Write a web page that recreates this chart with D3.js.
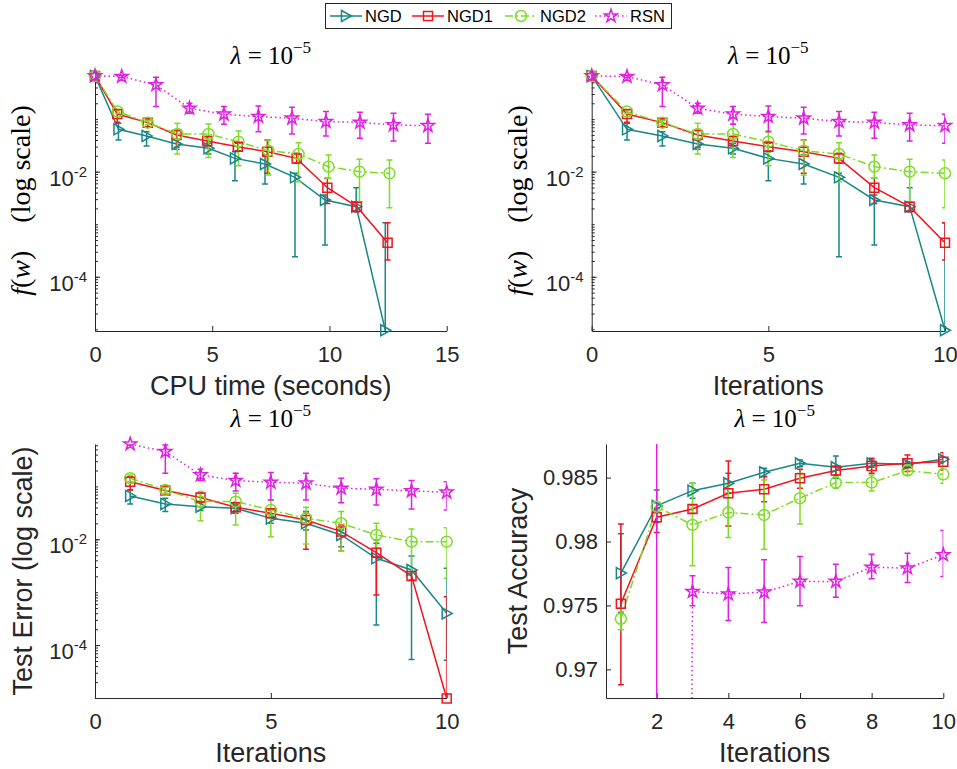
<!DOCTYPE html>
<html>
<head>
<meta charset="utf-8">
<script src="https://cdn.jsdelivr.net/npm/d3@7"></script>
<style>
body { margin: 0; background: #fff; }
svg { font-family: "Liberation Sans", Arial, Helvetica, sans-serif; }
</style>
</head>
<body>
<svg id="chart" width="957" height="769"></svg>
<script>
var methods = ["NGD", "NGD1", "NGD2", "RSN"];
var colors = ["#178787", "#f2141e", "#7fdc26", "#e21ee2"];
var dashes = [null, null, "8,3,2,3", "1.5,3"];
var markers = ["triangle", "square", "circle", "star"];

var iters0 = [0, 1, 2, 3, 4, 5, 6, 7, 8, 9, 10];
var iters1 = [1, 2, 3, 4, 5, 6, 7, 8, 9, 10];

// CPU time of each iteration (seconds)
var timeNGD = [0, 1.0, 2.2, 3.48, 4.84, 5.97, 7.25, 8.53, 9.81, 11.14, 12.38];
var timeNGD1 = [0, 0.95, 2.25, 3.48, 4.79, 6.09, 7.35, 8.6, 9.91, 11.17, 12.48];
var timeNGD2 = [0, 0.97, 2.25, 3.51, 4.84, 6.12, 7.4, 8.68, 9.96, 11.28, 12.56];
var timeRSN = [0, 1.14, 2.6, 4.03, 5.5, 6.97, 8.4, 9.85, 11.3, 12.73, 14.2];

// objective f(w), mean and error bar ends
var objNGD = [0.664, 0.064, 0.0478, 0.0336, 0.0278, 0.0179, 0.0140, 0.0078, 0.00289, 0.00216, 9.6e-6];
var objNGDHi = [0.70, 0.0834, 0.0578, 0.0401, 0.0347, 0.0240, 0.0207, 0.00929, 0.00360, 0.00496, 0.00107];
var objNGDLo = [0.62, 0.0401, 0.0308, 0.0266, 0.0217, 0.00674, 0.00582, 0.00024, 0.000401, 0.00173, 1e-7];

var objNGD1 = [0.664, 0.125, 0.0857, 0.0499, 0.0384, 0.0299, 0.0240, 0.0179, 0.00496, 0.00216, 0.000444];
var objNGD1Hi = [0.70, 0.150, 0.0964, 0.0604, 0.0465, 0.0347, 0.0401, 0.0223, 0.00746, 0.00268, 0.00107];
var objNGD1Lo = [0.62, 0.0871, 0.0720, 0.0290, 0.0308, 0.0251, 0.00929, 0.0144, 0.00249, 0.00173, 0.000208];

var objNGD2 = [0.664, 0.139, 0.0857, 0.0521, 0.0521, 0.0372, 0.0251, 0.0217, 0.01245, 0.0100, 0.00929];
var objNGD2Hi = [0.70, 0.150, 0.0930, 0.0834, 0.0809, 0.0596, 0.0401, 0.0356, 0.0207, 0.0172, 0.0167];
var objNGD2Lo = [0.62, 0.128, 0.0790, 0.0217, 0.0187, 0.0130, 0.00865, 0.00645, 0.00746, 0.00268, 0.00206];

var objRSN = [0.664, 0.646, 0.448, 0.161, 0.124, 0.112, 0.104, 0.0896, 0.087, 0.0775, 0.075];
var objRSNHi = [0.70, 0.68, 0.626, 0.200, 0.173, 0.178, 0.168, 0.139, 0.135, 0.129, 0.124];
var objRSNLo = [0.62, 0.61, 0.173, 0.129, 0.0797, 0.0578, 0.0521, 0.0478, 0.0431, 0.0384, 0.0346];

// test error
var errNGD = [0.0661, 0.0467, 0.0415, 0.0386, 0.0249, 0.0201, 0.0121, 0.00437, 0.00263, 0.000398];
var errNGDHi = [0.0859, 0.0597, 0.0516, 0.0447, 0.0301, 0.0334, 0.0150, 0.00840, 0.00484, 0.00283];
var errNGDLo = [0.0467, 0.0334, 0.0349, 0.0310, 0.0201, 0.0150, 0.00726, 0.000239, 5.36e-5, 5.2e-5];

var errNGD1 = [0.123, 0.0834, 0.0615, 0.0404, 0.0310, 0.0232, 0.0140, 0.00560, 0.00202, 9.8e-6];
var errNGD1Hi = [0.153, 0.0964, 0.0743, 0.0467, 0.0359, 0.0310, 0.0187, 0.00971, 0.00244, 0.000822];
var errNGD1Lo = [0.0859, 0.0721, 0.0494, 0.0349, 0.0261, 0.00647, 0.00610, 0.000884, 0.00170, 1e-7];

var errNGD2 = [0.143, 0.0859, 0.0516, 0.0516, 0.0359, 0.0249, 0.0201, 0.0121, 0.00903, 0.00903];
var errNGD2Hi = [0.165, 0.0964, 0.0798, 0.0743, 0.0556, 0.0404, 0.0334, 0.0201, 0.0157, 0.0166];
var errNGD2Lo = [0.123, 0.0743, 0.0225, 0.0187, 0.0112, 0.00816, 0.00610, 0.00676, 0.00244, 0.00183];

var errRSN = [0.63, 0.456, 0.165, 0.129, 0.120, 0.115, 0.0923, 0.0883, 0.0822, 0.0777];
var errRSNHi = [0.66, 0.609, 0.211, 0.177, 0.183, 0.177, 0.143, 0.139, 0.129, 0.123];
var errRSNLo = [0.60, 0.177, 0.129, 0.0822, 0.0554, 0.0554, 0.0494, 0.0447, 0.0375, 0.0359];

// test accuracy
var accNGD = [0.97753, 0.98279, 0.98398, 0.98456, 0.98542, 0.98612, 0.98581, 0.98612, 0.98604, 0.98643];
var accNGDHi = [0.98060, 0.98404, 0.98456, 0.98534, 0.98573, 0.98638, 0.98669, 0.98638, 0.98625, 0.98669];
var accNGDLo = [0.97445, 0.98148, 0.98339, 0.98378, 0.98508, 0.98586, 0.98495, 0.98581, 0.98586, 0.98612];

var accNGD1 = [0.97513, 0.98190, 0.98255, 0.98378, 0.98409, 0.98495, 0.98555, 0.98591, 0.98612, 0.98625];
var accNGD1Hi = [0.98138, 0.98260, 0.98286, 0.98630, 0.98508, 0.98565, 0.98586, 0.98651, 0.98677, 0.98695];
var accNGD1Lo = [0.96880, 0.98070, 0.98221, 0.98122, 0.98312, 0.98417, 0.98521, 0.98534, 0.98547, 0.98560];

var accNGD2 = [0.97396, 0.98273, 0.98130, 0.98227, 0.98208, 0.98339, 0.98461, 0.98461, 0.98555, 0.98526];
var accNGD2Hi = [0.97479, 0.98299, 0.98456, 0.98443, 0.98482, 0.98534, 0.98508, 0.98521, 0.98599, 0.98573];
var accNGD2Lo = [0.97310, 0.98247, 0.97810, 0.98031, 0.97940, 0.98138, 0.98417, 0.98396, 0.98521, 0.98456];

var accRSN = [0.10, 0.50, 0.97609, 0.97589, 0.97604, 0.97688, 0.97688, 0.97799, 0.97792, 0.97896];
var accRSNHi = [0.11, 1.20, 0.97732, 0.97797, 0.97857, 0.97883, 0.97823, 0.97901, 0.97909, 0.98086];
var accRSNLo = [0.09, -0.20, 0.97497, 0.97383, 0.97367, 0.97497, 0.97565, 0.97708, 0.97680, 0.97727];

var logTicks = [1e-4, 1e-2];
var accTicks = [0.97, 0.975, 0.98, 0.985];
var axisColor = "#262626";

var svg = d3.select("#chart");

function makeSeries(xs, ys, his, los) {
    return methods.map(function (m, i) {
        return {
            name: m,
            color: colors[i],
            dash: dashes[i],
            marker: markers[i],
            pts: xs[i].map(function (xv, j) {
                return { x: xv, y: ys[i][j], hi: his[i][j], lo: los[i][j] };
            })
        };
    });
}

function markerPath(type) {
    if (type == "triangle") return "M-4.5,-5.5L5.5,0L-4.5,5.5Z";
    if (type == "square") return "M-4.5,-4.5H4.5V4.5H-4.5Z";
    if (type == "circle") return d3.symbol(d3.symbolCircle, 95)();
    return d3.symbol(d3.symbolStar, 52)();
}

function supLabel(sel, exp) {
    sel.each(function () {
        var t = d3.select(this);
        t.text(null);
        t.append("tspan").text("10");
        t.append("tspan").attr("dy", "-9").attr("font-size", "15px").text(exp);
    });
}

function drawPanel(cfg, idx) {
    var width = cfg.width,
        height = cfg.height,
        g = svg.append("g").attr("transform", "translate(" + cfg.left + "," + cfg.top + ")");

    var x = d3.scaleLinear().domain(cfg.xDomain).range([0, width]);
    var y = cfg.log ? d3.scaleLog().domain(cfg.yDomain).range([height, 0])
                    : d3.scaleLinear().domain(cfg.yDomain).range([height, 0]);

    g.append("clipPath").attr("id", "clip" + idx)
        .append("rect").attr("width", width).attr("height", height);

    // y axis
    if (cfg.log) {
        var minor = [];
        for (var n = -7; n <= 0; n++) {
            for (var k = 1; k <= 9; k++) {
                var v = k * Math.pow(10, n);
                if (v >= cfg.yDomain[0] && v <= cfg.yDomain[1]) minor.push(v);
            }
        }
        g.append("g")
            .call(d3.axisLeft(y).tickValues(minor).tickSizeInner(-3).tickSizeOuter(0).tickFormat(""))
            .call(a => a.select(".domain").remove())
            .call(a => a.selectAll(".tick line").attr("stroke", axisColor));
        g.append("g")
            .call(d3.axisLeft(y).tickValues(logTicks).tickSizeInner(-5).tickSizeOuter(0).tickPadding(8))
            .call(a => a.selectAll(".tick text").attr("dy", "0.62em").each(function (d) {
                supLabel(d3.select(this), "-" + Math.round(-Math.log10(d)));
            }))
            .call(styleAxis);
    } else {
        g.append("g")
            .call(d3.axisLeft(y).tickValues(cfg.yTicks).tickSizeInner(-5).tickSizeOuter(0).tickPadding(8)
                .tickFormat(d3.format("")))
            .call(styleAxis);
    }

    // x axis
    g.append("g")
        .attr("transform", "translate(0," + height + ")")
        .call(d3.axisBottom(x).tickValues(cfg.xTicks).tickSizeInner(-5).tickSizeOuter(0).tickPadding(15))
        .call(styleAxis);

    var line = d3.line()
        .x(d => x(d.x))
        .y(d => y(d.y));

    var clip = g.append("g").attr("clip-path", "url(#clip" + idx + ")");

    cfg.series.forEach(function (s) {
        var sg = clip.append("g");
        sg.selectAll(".bar")
            .data(s.pts)
            .join("path")
            .attr("fill", "none")
            .attr("stroke", s.color)
            .attr("stroke-width", 1.5)
            .attr("d", function (d) {
                var px = x(d.x),
                    top = y(d.hi),
                    bot = cfg.log && d.lo <= 0 ? height + 50 : y(d.lo);
                return "M" + px + "," + top + "V" + bot +
                    "M" + (px - 3) + "," + top + "H" + (px + 3) +
                    "M" + (px - 3) + "," + bot + "H" + (px + 3);
            });
        sg.append("path")
            .datum(s.pts)
            .attr("fill", "none")
            .attr("stroke", s.color)
            .attr("stroke-width", 1.5)
            .attr("stroke-dasharray", s.dash)
            .attr("d", line);
        g.append("g").selectAll("path")
            .data(s.pts.filter(d => d.y >= cfg.yDomain[0] * 0.97 && d.y <= cfg.yDomain[1] * 1.03))
            .join("path")
            .attr("transform", d => "translate(" + x(d.x) + "," + y(d.y) + ")")
            .attr("d", markerPath(s.marker))
            .attr("fill", "none")
            .attr("stroke", s.color)
            .attr("stroke-width", 1.5);
    });

    // title
    var title = svg.append("text")
        .attr("x", cfg.left + width / 2)
        .attr("y", cfg.titleY)
        .attr("text-anchor", "middle")
        .attr("font-family", "'Liberation Serif', 'Times New Roman', serif")
        .attr("font-size", 25)
        .attr("fill", "#000");
    title.append("tspan").attr("font-style", "italic").text("\u03bb");
    title.append("tspan").text(" = 10");
    title.append("tspan").attr("dy", -11).attr("font-size", 17).text("\u2212" + "5");

    // x label
    svg.append("text")
        .attr("x", cfg.left + width / 2)
        .attr("y", cfg.top + height + 64)
        .attr("text-anchor", "middle")
        .attr("font-size", 27)
        .attr("fill", axisColor)
        .text(cfg.xLabel);

    // y label
    var yl = svg.append("text")
        .attr("transform", "translate(" + cfg.yLabelX + "," + (cfg.top + height / 2) + ") rotate(-90)")
        .attr("text-anchor", "middle")
        .attr("fill", axisColor);
    if (cfg.yLabelTex) {
        yl.attr("font-family", "'Liberation Serif', 'Times New Roman', serif").attr("font-size", 28).attr("fill", "#000");
        yl.append("tspan").attr("font-style", "italic").text("f");
        yl.append("tspan").text("(");
        yl.append("tspan").attr("font-style", "italic").text("w");
        yl.append("tspan").text(")\u2002\u2002(log scale)");
    } else {
        yl.attr("font-size", 27).text(cfg.yLabel);
    }
}

function styleAxis(a) {
    a.select(".domain").attr("stroke", axisColor);
    a.selectAll(".tick line").attr("stroke", axisColor);
    a.selectAll(".tick text").attr("fill", axisColor).attr("font-size", 22)
        .attr("font-family", "'Liberation Sans', Arial, sans-serif");
}

var objY = [objNGD, objNGD1, objNGD2, objRSN],
    objHi = [objNGDHi, objNGD1Hi, objNGD2Hi, objRSNHi],
    objLo = [objNGDLo, objNGD1Lo, objNGD2Lo, objRSNLo];

var panels = [
    {
        left: 95, top: 70, width: 351.7, height: 261,
        xDomain: [0, 15], xTicks: [0, 5, 10, 15], yDomain: [9.3e-6, 0.86], log: true,
        series: makeSeries([timeNGD, timeNGD1, timeNGD2, timeRSN], objY, objHi, objLo),
        titleY: 64, xLabel: "CPU time (seconds)", yLabelTex: true, yLabelX: 30
    },
    {
        left: 591.7, top: 70, width: 353.3, height: 261,
        xDomain: [0, 10], xTicks: [0, 5, 10], yDomain: [9.3e-6, 0.86], log: true,
        series: makeSeries([iters0, iters0, iters0, iters0], objY, objHi, objLo),
        titleY: 64, xLabel: "Iterations", yLabelTex: true, yLabelX: 527
    },
    {
        left: 95, top: 444, width: 351.7, height: 254,
        xDomain: [0, 10], xTicks: [0, 5, 10], yDomain: [1e-5, 0.634], log: true,
        series: makeSeries([iters1, iters1, iters1, iters1],
            [errNGD, errNGD1, errNGD2, errRSN],
            [errNGDHi, errNGD1Hi, errNGD2Hi, errRSNHi],
            [errNGDLo, errNGD1Lo, errNGD2Lo, errRSNLo]),
        titleY: 427, xLabel: "Iterations", yLabel: "Test Error (log scale)", yLabelX: 32
    },
    {
        left: 606, top: 444, width: 337.3, height: 254,
        xDomain: [0.585, 10], xTicks: [2, 4, 6, 8, 10], yDomain: [0.96776, 0.98763], yTicks: accTicks, log: false,
        series: makeSeries([iters1, iters1, iters1, iters1],
            [accNGD, accNGD1, accNGD2, accRSN],
            [accNGDHi, accNGD1Hi, accNGD2Hi, accRSNHi],
            [accNGDLo, accNGD1Lo, accNGD2Lo, accRSNLo]),
        titleY: 427, xLabel: "Iterations", yLabel: "Test Accuracy", yLabelX: 527
    }
];

panels.forEach(drawPanel);

// legend
var legend = svg.append("g");
legend.append("rect")
    .attr("x", 325.5).attr("y", 3.5).attr("width", 346).attr("height", 25)
    .attr("fill", "#fff").attr("stroke", axisColor).attr("stroke-width", 1);

var legendX = [330, 412, 505, 595];
methods.forEach(function (m, i) {
    var lg = legend.append("g").attr("transform", "translate(" + legendX[i] + ",16)");
    lg.append("line")
        .attr("x1", 0).attr("x2", 32)
        .attr("stroke", colors[i]).attr("stroke-width", 1.5)
        .attr("stroke-dasharray", dashes[i]);
    lg.append("path")
        .attr("transform", "translate(16,0)")
        .attr("d", markerPath(markers[i]))
        .attr("fill", "none").attr("stroke", colors[i]).attr("stroke-width", 1.5);
    lg.append("text")
        .attr("x", 35).attr("y", 6)
        .attr("font-size", 16.5).attr("fill", "#000")
        .text(m);
});
</script>
</body>
</html>
